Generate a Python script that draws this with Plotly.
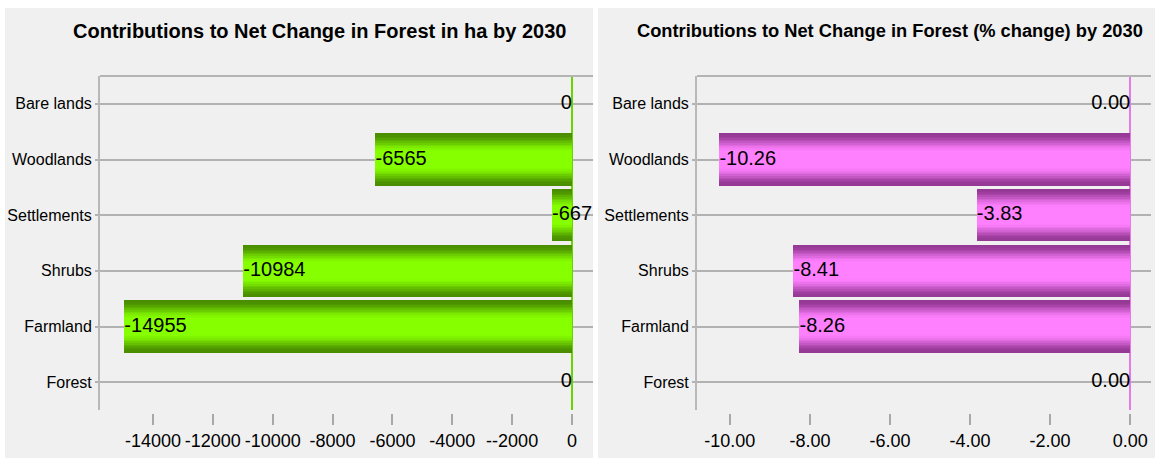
import plotly.graph_objects as go

# Land-cover classes, listed bottom to top as they appear on the y axis
categories = ["Forest", "Farmland", "Shrubs", "Settlements", "Woodlands", "Bare lands"]

# Contributions to net forest change by 2030
change_ha = [0, -14955, -10984, -667, -6565, 0]
change_pct = [0.00, -8.26, -8.41, -3.83, -10.26, 0.00]

# Tick labels of the two value axes
ha_tickvals = [-14000, -12000, -10000, -8000, -6000, -4000, -2000, 0]
ha_ticktext = ["-14000", "-12000", "-10000", "-8000", "-6000", "-4000", "--2000", "0"]
pct_tickvals = [-10, -8, -6, -4, -2, 0]
pct_ticktext = ["-10.00", "-8.00", "-6.00", "-4.00", "-2.00", "0.00"]

W, H = 1155, 458
SANS = "Liberation Sans, Arial, sans-serif"


def shade_bands(dark, bright, n=12, outer=0.94, inner=0.30):
    """Nested bar widths/colours that fake a rounded, lit bar."""
    bands = []
    for i in range(n):
        t = i / (n - 1)
        s = t * t * (3 - 2 * t)
        w = outer - (outer - inner) * t
        c = tuple(round(d + (b - d) * s) for d, b in zip(dark, bright))
        bands.append((w, "rgb(%d,%d,%d)" % c))
    return bands


green_bands = shade_bands((74, 142, 0), (134, 255, 0))
pink_bands = shade_bands((150, 56, 150), (255, 128, 255))


def px_x(p):
    return p / W


def px_y(p):
    return 1 - p / H


fig = go.Figure()


def add_panel(values, bands, xa, ya, fmt):
    for width, color in bands:
        fig.add_trace(go.Bar(
            x=values, y=categories, orientation="h", width=width,
            marker=dict(color=color, line=dict(width=0)),
            xaxis=xa, yaxis=ya, hoverinfo="skip", showlegend=False))
    fig.add_trace(go.Scatter(
        x=values, y=categories, mode="text",
        text=[fmt(v) for v in values],
        textposition=["middle left" if v == 0 else "middle right" for v in values],
        textfont=dict(family=SANS, size=20, color="#000000"),
        xaxis=xa, yaxis=ya, hoverinfo="skip", showlegend=False))


add_panel(change_ha, green_bands, "x", "y", lambda v: f"{v:d}")
add_panel(change_pct, pink_bands, "x2", "y2", lambda v: f"{v:.2f}")

plot_top, plot_bottom = 76, 410
ydom = [px_y(plot_bottom), px_y(plot_top)]

common_x = dict(
    anchor="free", position=px_y(413), showgrid=False, showline=False,
    ticks="outside", ticklen=11, tickwidth=1.5, tickcolor="#a8a8a8",
    tickfont=dict(family=SANS, size=18, color="#000000"),
    zeroline=True, zerolinewidth=2, fixedrange=True, automargin=False,
)
common_y = dict(
    type="category", categoryorder="array", categoryarray=categories,
    range=[-0.5, 5.5], domain=ydom, showgrid=True, gridcolor="#b2b2b2",
    gridwidth=2, showline=True, linecolor="#b8b8b8", linewidth=2,
    ticks="outside", ticklen=3, tickwidth=2, tickcolor="#b2b2b2",
    tickfont=dict(family=SANS, size=16, color="#000000"), fixedrange=True,
    automargin=False,
)

fig.update_layout(
    width=W, height=H, margin=dict(l=0, r=0, t=0, b=0, autoexpand=False),
    paper_bgcolor="#ffffff", plot_bgcolor="#fffad8",
    barmode="overlay", bargap=0,
    xaxis=dict(common_x, domain=[px_x(100), px_x(593)], range=[-15769, 702],
               tickvals=ha_tickvals, ticktext=ha_ticktext,
               zerolinecolor="#6ad400"),
    yaxis=dict(common_y, anchor="x"),
    xaxis2=dict(common_x, domain=[px_x(697), px_x(1151)], range=[-10.82, 0.52],
                tickvals=pct_tickvals, ticktext=pct_ticktext,
                zerolinecolor="#e67ae6"),
    yaxis2=dict(common_y, anchor="x2"),
)

# panel backgrounds
for x0, x1 in [(5, 593), (598, 1155)]:
    fig.add_shape(type="rect", xref="paper", yref="paper", layer="below",
                  x0=px_x(x0), x1=px_x(x1), y0=0, y1=px_y(8),
                  fillcolor="#f0f0f0", line=dict(width=0))

# top border of each plotting area
for xr, yr in [("x domain", "y domain"), ("x2 domain", "y2 domain")]:
    fig.add_shape(type="line", xref=xr, yref=yr, x0=0, x1=1, y0=1, y1=1,
                  line=dict(color="#b4b4b4", width=2))

# panel titles
for text, cx, size in [("Contributions to Net Change in Forest in ha by 2030", 319, 20),
                       ("Contributions to Net Change in Forest (% change) by 2030", 890, 18.3)]:
    fig.add_annotation(text=f"<b>{text}</b>", xref="paper", yref="paper",
                       x=px_x(cx), y=px_y(31), showarrow=False,
                       xanchor="center", yanchor="middle",
                       font=dict(family=SANS, size=size, color="#000000"))

fig.write_html("out.html")
